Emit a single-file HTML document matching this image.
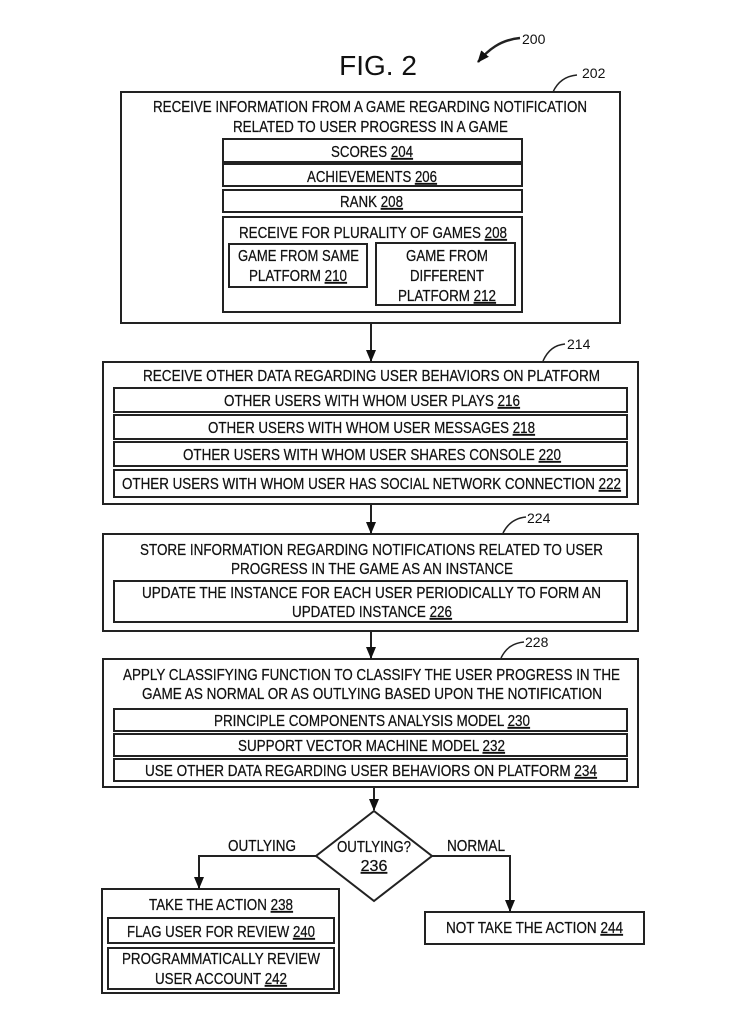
<!DOCTYPE html>
<html><head><meta charset="utf-8"><style>
html,body{margin:0;padding:0;background:#fff;}
svg{display:block;}
text{font-family:"Liberation Sans",Arial,sans-serif;font-size:16px;fill:#111;stroke:#111;stroke-width:0.25px;}
.u{text-decoration:underline;}
</style></head><body>
<svg width="748" height="1024" viewBox="0 0 748 1024" xmlns="http://www.w3.org/2000/svg">
<defs>
<marker id="b" markerWidth="12" markerHeight="10" refX="11" refY="5" orient="auto" markerUnits="userSpaceOnUse" viewBox="0 0 12 10"><path d="M0,0 L12,5 L0,10 z" fill="#111"/></marker></defs>
<g fill="none" stroke="#222" stroke-width="2">
<rect x="121" y="92" width="499" height="231"/>
<rect x="223" y="139" width="299" height="23"/>
<rect x="223" y="164" width="299" height="22"/>
<rect x="223" y="190" width="299" height="22"/>
<rect x="223" y="217" width="299" height="95"/>
<rect x="229" y="244" width="138" height="43"/>
<rect x="376" y="243" width="139" height="62"/>
<rect x="103" y="362" width="535" height="142"/>
<rect x="114" y="388" width="513" height="24"/>
<rect x="114" y="415" width="513" height="24"/>
<rect x="114" y="442" width="513" height="24"/>
<rect x="114" y="470" width="513" height="27"/>
<rect x="103" y="534" width="535" height="97"/>
<rect x="114" y="581" width="513" height="41"/>
<rect x="103" y="659" width="535" height="128"/>
<rect x="114" y="709" width="513" height="22"/>
<rect x="114" y="734" width="513" height="22"/>
<rect x="114" y="759" width="513" height="22"/>
<polygon points="374,811 432,856 374,901 316,856"/>
<rect x="102" y="889" width="237" height="104"/>
<rect x="108" y="918" width="226" height="25"/>
<rect x="108" y="948" width="226" height="41"/>
<rect x="425" y="912" width="219" height="32"/>
<path d="M371,323 V361" marker-end="url(#b)"/>
<path d="M371,504 V533" marker-end="url(#b)"/>
<path d="M371,631 V658" marker-end="url(#b)"/>
<path d="M374,787 V810" marker-end="url(#b)"/>
<path d="M316,856 H199 V888" marker-end="url(#b)"/>
<path d="M432,856 H510 V911" marker-end="url(#b)"/>
<path d="M520,38 C500,40 488,50 478,62" stroke-width="2.5" marker-end="url(#b)"/>
<path d="M553,92 C558,81 566,76 577,75" stroke-width="1.5"/>
<path d="M543,361 C548,350 555,345 565,344" stroke-width="1.5"/>
<path d="M503,533 C508,523 516,518 526,517" stroke-width="1.5"/>
<path d="M501,658 C506,648 513,643 524,642" stroke-width="1.5"/>
</g>
<text x="378" y="75" text-anchor="middle" style="font-size:28px;stroke-width:0">FIG. 2</text>
<text x="522" y="44" style="font-size:14px;stroke-width:0">200</text>
<text x="582" y="78" style="font-size:14px;stroke-width:0">202</text>
<text x="567" y="349" style="font-size:14px;stroke-width:0">214</text>
<text x="527" y="523" style="font-size:14px;stroke-width:0">224</text>
<text x="525" y="647" style="font-size:14px;stroke-width:0">228</text>

<text x="153" y="112" textLength="434" lengthAdjust="spacingAndGlyphs">RECEIVE INFORMATION FROM A GAME REGARDING NOTIFICATION</text>
<text x="233" y="132" textLength="275" lengthAdjust="spacingAndGlyphs">RELATED TO USER PROGRESS IN A GAME</text>
<text x="331" y="157" textLength="82" lengthAdjust="spacingAndGlyphs">SCORES <tspan class="u">204</tspan></text>
<text x="307" y="182" textLength="130" lengthAdjust="spacingAndGlyphs">ACHIEVEMENTS <tspan class="u">206</tspan></text>
<text x="340" y="207" textLength="63" lengthAdjust="spacingAndGlyphs">RANK <tspan class="u">208</tspan></text>
<text x="239" y="238" textLength="268" lengthAdjust="spacingAndGlyphs">RECEIVE FOR PLURALITY OF GAMES <tspan class="u">208</tspan></text>
<text x="238" y="261" textLength="121" lengthAdjust="spacingAndGlyphs">GAME FROM SAME</text>
<text x="249" y="281" textLength="98" lengthAdjust="spacingAndGlyphs">PLATFORM <tspan class="u">210</tspan></text>
<text x="406" y="261" textLength="82" lengthAdjust="spacingAndGlyphs">GAME FROM</text>
<text x="410" y="281" textLength="74" lengthAdjust="spacingAndGlyphs">DIFFERENT</text>
<text x="398" y="301" textLength="98" lengthAdjust="spacingAndGlyphs">PLATFORM <tspan class="u">212</tspan></text>

<text x="143" y="381" textLength="457" lengthAdjust="spacingAndGlyphs">RECEIVE OTHER DATA REGARDING USER BEHAVIORS ON PLATFORM</text>
<text x="224" y="406" textLength="296" lengthAdjust="spacingAndGlyphs">OTHER USERS WITH WHOM USER PLAYS <tspan class="u">216</tspan></text>
<text x="208" y="433" textLength="327" lengthAdjust="spacingAndGlyphs">OTHER USERS WITH WHOM USER MESSAGES <tspan class="u">218</tspan></text>
<text x="183" y="460" textLength="378" lengthAdjust="spacingAndGlyphs">OTHER USERS WITH WHOM USER SHARES CONSOLE <tspan class="u">220</tspan></text>
<text x="122" y="489" textLength="499" lengthAdjust="spacingAndGlyphs">OTHER USERS WITH WHOM USER HAS SOCIAL NETWORK CONNECTION <tspan class="u">222</tspan></text>

<text x="140" y="555" textLength="463" lengthAdjust="spacingAndGlyphs">STORE INFORMATION REGARDING NOTIFICATIONS RELATED TO USER</text>
<text x="231" y="574" textLength="282" lengthAdjust="spacingAndGlyphs">PROGRESS IN THE GAME AS AN INSTANCE</text>
<text x="142" y="598" textLength="459" lengthAdjust="spacingAndGlyphs">UPDATE THE INSTANCE FOR EACH USER PERIODICALLY TO FORM AN</text>
<text x="292" y="617" textLength="160" lengthAdjust="spacingAndGlyphs">UPDATED INSTANCE <tspan class="u">226</tspan></text>

<text x="123" y="680" textLength="497" lengthAdjust="spacingAndGlyphs">APPLY CLASSIFYING FUNCTION TO CLASSIFY THE USER PROGRESS IN THE</text>
<text x="142" y="699" textLength="460" lengthAdjust="spacingAndGlyphs">GAME AS NORMAL OR AS OUTLYING BASED UPON THE NOTIFICATION</text>
<text x="214" y="726" textLength="316" lengthAdjust="spacingAndGlyphs">PRINCIPLE COMPONENTS ANALYSIS MODEL <tspan class="u">230</tspan></text>
<text x="238" y="751" textLength="267" lengthAdjust="spacingAndGlyphs">SUPPORT VECTOR MACHINE MODEL <tspan class="u">232</tspan></text>
<text x="145" y="776" textLength="452" lengthAdjust="spacingAndGlyphs">USE OTHER DATA REGARDING USER BEHAVIORS ON PLATFORM <tspan class="u">234</tspan></text>

<text x="337" y="852" textLength="74" lengthAdjust="spacingAndGlyphs">OUTLYING?</text>
<text x="374" y="871" text-anchor="middle" class="u">236</text>
<text x="228" y="851" textLength="68" lengthAdjust="spacingAndGlyphs">OUTLYING</text>
<text x="447" y="851" textLength="58" lengthAdjust="spacingAndGlyphs">NORMAL</text>

<text x="149" y="910" textLength="144" lengthAdjust="spacingAndGlyphs">TAKE THE ACTION <tspan class="u">238</tspan></text>
<text x="127" y="937" textLength="188" lengthAdjust="spacingAndGlyphs">FLAG USER FOR REVIEW <tspan class="u">240</tspan></text>
<text x="122" y="964" textLength="198" lengthAdjust="spacingAndGlyphs">PROGRAMMATICALLY REVIEW</text>
<text x="155" y="984" textLength="132" lengthAdjust="spacingAndGlyphs">USER ACCOUNT <tspan class="u">242</tspan></text>
<text x="446" y="933" textLength="177" lengthAdjust="spacingAndGlyphs">NOT TAKE THE ACTION <tspan class="u">244</tspan></text>
</svg>
</body></html>
